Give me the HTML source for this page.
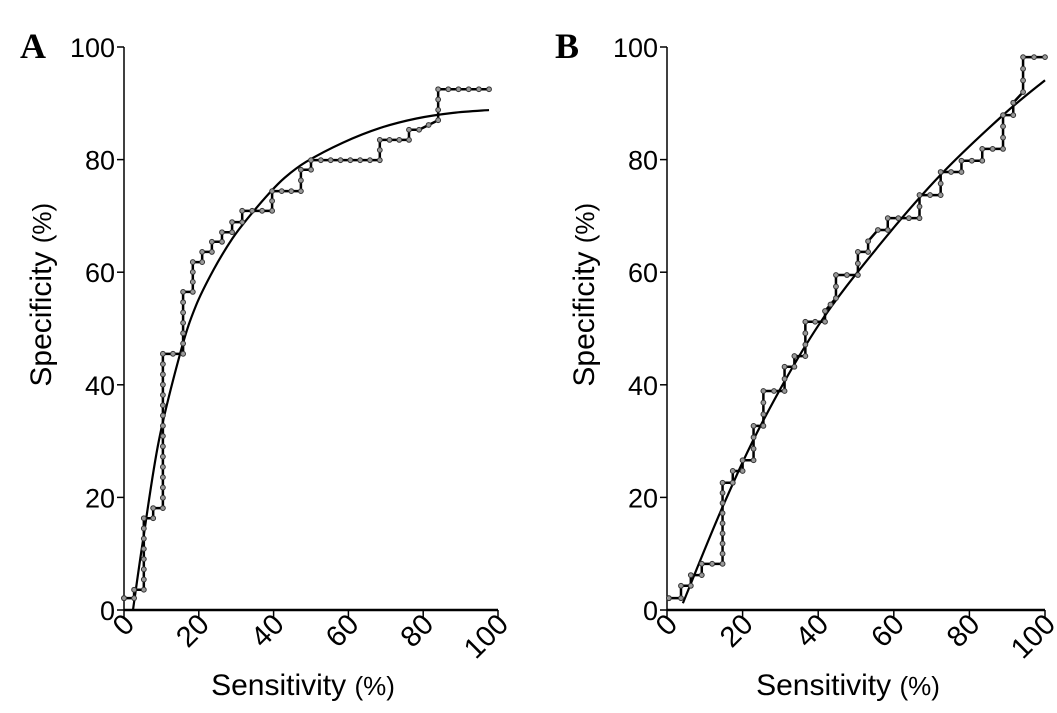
<!DOCTYPE html>
<html><head><meta charset="utf-8"><style>
html,body{margin:0;padding:0;background:#fff;}
svg{display:block;font-family:"Liberation Sans",sans-serif;}
</style></head><body>
<svg id="chart" width="1057" height="713" viewBox="0 0 1057 713"></svg>
<script>
// Panel A data
const aStepX = [0,0,2.7,2.7,5.3,5.3,7.8,7.8,10.4,10.4,15.8,15.8,18.4,18.4,20.9,20.9,23.5,23.5,26.2,26.2,28.9,28.9,31.6,31.6,39.6,39.6,47.3,47.3,50.0,50.0,68.4,68.4,76.2,76.2,78.9,84.0,84.0,97.6];
const aStepY = [2.1,2.1,2.1,3.6,3.6,16.3,16.3,18.1,18.1,45.5,45.5,56.5,56.5,61.8,61.8,63.6,63.6,65.4,65.4,67.1,67.1,68.9,68.9,70.9,70.9,74.4,74.4,78.2,78.2,79.9,79.9,83.5,83.5,85.3,85.3,87.0,92.5,92.5];
const aFitX = [2.4,5,9.3,15.2,19.2,24,29,33,38.8,43,48.7,58.5,68.4,78.2,88,97.6];
const aFitY = [0,12,30,46,54,60.5,66,69.5,74,76.8,79.6,83,85.6,87.3,88.3,88.8];
// Panel B data
const bStepX = [0.5,3.7,3.7,6.3,6.3,9.2,9.2,14.7,14.7,17.4,17.4,20,20,22.9,22.9,25.5,25.5,31.1,31.1,33.7,33.7,36.6,36.6,41.8,41.8,44.7,44.7,50.5,50.5,53.2,53.2,55.8,58.4,58.4,66.8,66.8,72.4,72.4,77.9,77.9,83.4,83.4,88.9,88.9,91.6,91.6,94.2,94.2,100];
const bStepY = [2.1,2.1,4.3,4.3,6.2,6.2,8.2,8.2,22.6,22.6,24.7,24.7,26.6,26.6,32.7,32.7,38.9,38.9,43.2,43.2,45.1,45.1,51.2,51.2,53.1,55.4,59.5,59.5,63.6,63.6,65.5,67.5,67.5,69.6,69.6,73.7,73.7,77.8,77.8,79.8,79.8,81.9,81.9,87.9,87.9,90.1,92.0,98.2,98.2];
const bFitX = [4.2,14.7,25.5,40,55.8,72.4,88.9,100];
const bFitY = [1.2,18.3,33.7,50.5,64.5,77.3,87.9,94.1];
const ticks = [0,20,40,60,80,100];

const NS="http://www.w3.org/2000/svg";
const svg=document.getElementById('chart');
function mk(tag,attrs,parent){const e=document.createElementNS(NS,tag);for(const k in attrs)e.setAttribute(k,attrs[k]);(parent||svg).appendChild(e);return e;}
function smooth(P){
  let d='M'+P[0][0]+','+P[0][1];
  for(let i=0;i<P.length-1;i++){
    const p0=P[Math.max(0,i-1)],p1=P[i],p2=P[i+1],p3=P[Math.min(P.length-1,i+2)];
    const c1=[p1[0]+(p2[0]-p0[0])/6,p1[1]+(p2[1]-p0[1])/6];
    const c2=[p2[0]-(p3[0]-p1[0])/6,p2[1]-(p3[1]-p1[1])/6];
    d+=' C'+c1.join(',')+' '+c2.join(',')+' '+p2.join(',');
  }
  return d;
}

function panel(p){
  const g=mk('g',{});
  
  
  const sx=v=>p.x0+(p.x1-p.x0)*v/100;
  const sy=v=>p.y0+(p.y1-p.y0)*v/100;
  const ya=mk('line',{x1:p.x0,y1:p.y0,x2:p.x0,y2:p.y1,stroke:'#000','stroke-width':1.5},g);
  
  
  const xa=mk('line',{x1:p.x0,y1:p.y0,x2:p.x1,y2:p.y0,stroke:'#000','stroke-width':2.5},g);
  
  
  ticks.forEach(t=>{
    mk('line',{x1:p.x0-7,y1:sy(t),x2:p.x0,y2:sy(t),stroke:'#000','stroke-width':1.5},g);
    const yl=mk('text',{x:p.x0-9,y:sy(t)+10,'text-anchor':'end','font-size':27},g);
    yl.textContent=t;
    
    
    mk('line',{x1:sx(t),y1:p.y0,x2:sx(t),y2:p.y0+7,stroke:'#000','stroke-width':1.5},g);
    const xl=mk('text',{x:0,y:0,'text-anchor':'end','font-size':29,transform:`translate(${sx(t)+12},${p.y0+16}) rotate(-45)`},g);
    xl.textContent=t;
    
    
  });
  const xt=mk('text',{x:(p.x0+p.x1)/2-8,y:695,'text-anchor':'middle','font-size':30},g);
  xt.innerHTML='Sensitivity <tspan font-size="26">(%)</tspan>';
  
  
  const yt=mk('text',{x:0,y:0,'text-anchor':'middle','font-size':30,transform:`translate(${p.x0-73},${sy(56)}) rotate(-90)`},g);
  yt.innerHTML='Specificity <tspan font-size="26">(%)</tspan>';
  
  
  const lt=mk('text',{x:p.lx,y:58,'font-size':36,'font-weight':'bold','font-family':'"Liberation Serif",serif'},g);
  lt.textContent=p.letter;
  
  
  const fit=mk('path',{d:smooth(p.fx.map((v,i)=>[sx(v),sy(p.fy[i])])),fill:'none',stroke:'#000','stroke-width':2.2},g);
  
  
  const pts=p.sx.map((v,i)=>[sx(v),sy(p.sy[i])]);
  const st=mk('polyline',{points:pts.map(q=>q.join(',')).join(' '),fill:'none',stroke:'#000','stroke-width':2.5},g);
  
  
  for(let i=0;i<pts.length;i++){
    const segs = i===0?1:Math.max(1,Math.round(Math.hypot(pts[i][0]-pts[i-1][0],pts[i][1]-pts[i-1][1])/10));
    for(let k=(i===0?0:1);k<=segs;k++){
      const f=i===0?0:k/segs;
      const cx=i===0?pts[0][0]:pts[i-1][0]+(pts[i][0]-pts[i-1][0])*f;
      const cy=i===0?pts[0][1]:pts[i-1][1]+(pts[i][1]-pts[i-1][1])*f;
      const c=mk('circle',{cx:cx,cy:cy,r:2.4,fill:'#999',stroke:'#333','stroke-width':1},g);
      
      
    }
  }
}
panel({name:'panel-a',letter:'A',lx:20,x0:124,x1:498,y0:610,y1:47,sx:aStepX,sy:aStepY,fx:aFitX,fy:aFitY});
panel({name:'panel-b',letter:'B',lx:555,x0:667,x1:1045,y0:610,y1:47,sx:bStepX,sy:bStepY,fx:bFitX,fy:bFitY});
</script>
</body></html>
